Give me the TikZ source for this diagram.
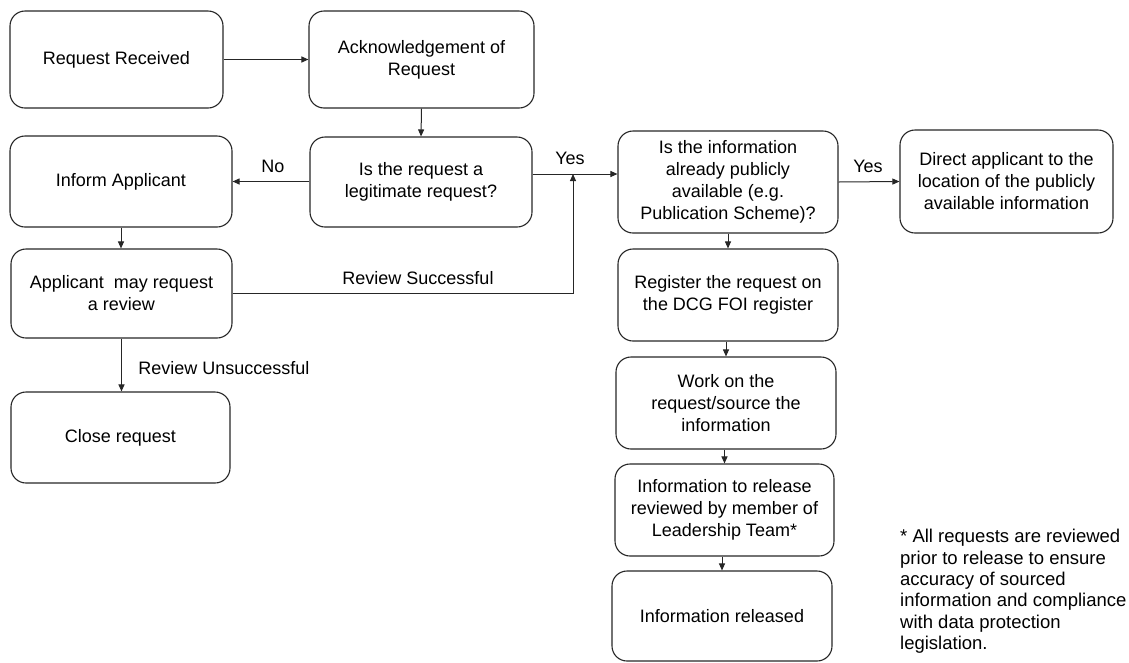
\documentclass[tikz,border=0pt]{standalone}
\usepackage{fontspec}
\setmainfont{Liberation Sans}
\usetikzlibrary{arrows.meta}
\begin{document}
\begin{tikzpicture}[x=1pt,y=-1pt,
  box/.style={draw=black!85, line width=1.1pt, rounded corners=15pt, align=center, inner sep=0pt, font=\fontsize{18}{22}\selectfont},
  arr/.style={draw=black!85, line width=1pt, -{Triangle[length=7pt,width=6pt]}},
  ln/.style={draw=black!85, line width=1pt},
  lbl/.style={font=\fontsize{18}{22}\selectfont, inner sep=0pt}]
\useasboundingbox (0,0) rectangle (1129,662);
\node[box, minimum width=213pt, minimum height=97pt] (rr) at (116.5,59.5) {Request Received};
\node[box, minimum width=225pt, minimum height=97pt] (ack) at (421.5,59.5) {Acknowledgement of\\Request};
\node[box, minimum width=222pt, minimum height=90pt] (leg) at (421,182) {Is the request a\\legitimate request?};
\node[box, minimum width=222pt, minimum height=91pt] (inf) at (121,181.5) {Inform Applicant};
\node[box, minimum width=221pt, minimum height=89pt] (app) at (121.5,293.5) {Applicant\ \ may request\\a review};
\node[box, minimum width=219pt, minimum height=91pt] (close) at (120.5,437.5) {Close request};
\node[box, minimum width=220pt, minimum height=102pt] (pub) at (728,182) {Is the information\\already publicly\\available (e.g.\\Publication Scheme)?};
\node[box, minimum width=213pt, minimum height=103pt] (dir) at (1006.5,181.5) {Direct applicant to the\\location of the publicly\\available information};
\node[box, minimum width=220pt, minimum height=92pt] (reg) at (728,295) {Register the request on\\the DCG FOI register};
\node[box, minimum width=220pt, minimum height=92pt] (work) at (726,403) {Work on the\\request/source the\\information};
\node[box, minimum width=219pt, minimum height=92pt] (rel) at (724.5,510) {Information to release\\reviewed by member of\\Leadership Team*};
\node[box, minimum width=220pt, minimum height=90pt] (done) at (722,616) {Information released};
\node[lbl, anchor=north west, align=left, font=\fontsize{18.5}{21.4}\selectfont] (note) at (900,529) {* All requests are reviewed\\prior to release to ensure\\accuracy of sourced\\information and compliance\\with data protection\\legislation.};
\coordinate (j) at (573,174);
\draw[arr] (rr.east) -- (ack.west);
\draw[arr] (ack.south) -- (leg.north);
\draw[arr] (leg.west |- inf.east) -- (inf.east);
\draw[arr] ([yshift=8pt]leg.east) -- ([yshift=8pt]leg.east -| pub.west);
\draw[arr] (pub.east) -- (dir.west);
\draw[arr] (inf.south) -- (inf.south |- app.north);
\draw[arr] (app.south) -- (app.south |- close.north);
\draw[ln] (app.east) -- (app.east -| j);
\draw[arr] (app.east -| j) -- (j);
\draw[arr] (pub.south) -- (pub.south |- reg.north);
\draw[arr] (reg.south -| work.north) -- (work.north);
\draw[arr] (work.south -| rel.north) -- (rel.north);
\draw[arr] (rel.south -| done.north) -- (done.north);
\node[lbl] (lno) at (273,166) {No};
\node[lbl] (lyes1) at (570,158) {Yes};
\node[lbl] (lyes2) at (868,166) {Yes};
\node[lbl] (lrs) at (418,278) {Review Successful};
\node[lbl] (lru) at (224,368) {Review Unsuccessful};
\end{tikzpicture}
\end{document}
